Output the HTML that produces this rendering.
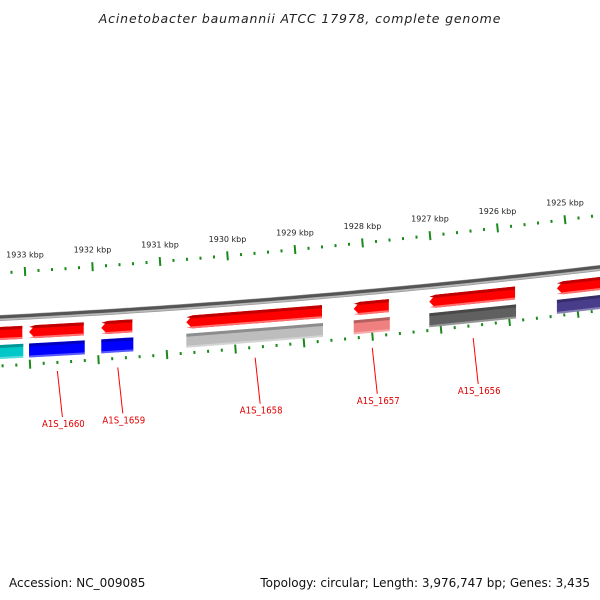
<!DOCTYPE html>
<html><head><meta charset="utf-8"><style>
body{margin:0;background:#fff}
svg{display:block;font-family:"DejaVu Sans","Liberation Sans",sans-serif}
</style></head><body>
<svg id="c" width="600" height="600" viewBox="0 0 600 600">
<text x="300" y="23" text-anchor="middle" font-size="12.5" letter-spacing="0.85" font-style="italic" fill="#222">Acinetobacter baumannii ATCC 17978, complete genome</text>
<text x="9" y="587" font-size="12" fill="#111">Accession: NC_009085</text>
<text x="590" y="587" text-anchor="end" font-size="12" fill="#111">Topology: circular; Length: 3,976,747 bp; Genes: 3,435</text>
<g id="g"></g>
</svg>
<script>
const tickKbp=[1933,1932,1931,1930,1929,1928,1927,1926,1925];
const tickLabels=["1933 kbp","1932 kbp","1931 kbp","1930 kbp","1929 kbp","1928 kbp","1927 kbp","1926 kbp","1925 kbp"];
const geneNames=["gene-left","A1S_1660","A1S_1659","A1S_1658","A1S_1657","A1S_1656","gene-right"];
const geneStart=[1933.5,1932.94,1931.87,1930.61,1928.13,1927.01,1925.12];
const geneEnd=[1933.04,1932.13,1931.41,1928.60,1927.61,1925.74,1924.4];
const cogColors=["#00c8c8","#0000ff","#0000ff","#bdbdbd","#f08080","#606060","#483d8b"];
const showLabel=[false,true,true,true,true,true,false];

const NS="http://www.w3.org/2000/svg";
const g=document.getElementById('g');
function base(x){return 318-0.05*x-5.56e-5*x*x;}
function slope(x){return -0.05-2*5.56e-5*x;}
function xO(k){return 25+(1933-k)*67.5;}
function xI(k){return 30+(1933-k)*68.5;}
function offO(x){return -45-7*x/540;}
function offI(x){return 48-5*x/550;}
function mk(t,a){const e=document.createElementNS(NS,t);for(const k in a)e.setAttribute(k,a[k]);g.appendChild(e);return e;}
function curve(o){let d="";for(let x=-10;x<=610;x+=10)d+=(x<0?"M":"L")+x+","+(base(x)+o);return d;}

// backbone
[[0,"#999",6],[-1,"#555",3],[1.5,"#bbb",1.5]].forEach(([o,c,w],i)=>{
 const p=mk('path',{d:curve(o),fill:"none",stroke:c,"stroke-width":w});
 
 });

// ticks
function tick(x,y,len,name){const s=slope(x),n=Math.hypot(1,s),nx=-s/n,ny=1/n;
 const l=mk('line',{x1:x-nx*len/2,y1:y-ny*len/2,x2:x+nx*len/2,y2:y+ny*len/2,stroke:"#1a8a1a","stroke-width":2});
 
 }
const k0=tickKbp[0]+0.6,k1=tickKbp[tickKbp.length-1]-0.6;
for(let i=0;;i++){const k=k0-i*0.2;if(k<k1)break;
 const major=Math.abs(k-Math.round(k))<0.01;const len=major?9:3;
 let x=xO(k);if(x>=-2&&x<=602)tick(x,base(x)+offO(x),len,major?'outer-major-tick':'outer-minor-tick');
 x=xI(k);if(x>=-2&&x<=602)tick(x,base(x)+offI(x),len,major?'inner-major-tick':'inner-minor-tick');}
tickKbp.forEach((k,i)=>{const x=xO(k);const t=mk('text',{x:x,y:base(x)+offO(x)-14,"text-anchor":"middle","font-size":"8",fill:"#222"});t.textContent=tickLabels[i];
 
 });

// genes
function band(x1,x2,o1,o2,fill,arrow){const a=Math.max(x1,-5),b=Math.min(x2,605);
 let p=[];const ar=arrow&&x1>-5?6:0;
 p.push([a+ar,base(a+ar)+o1],[b,base(b)+o1],[b,base(b)+o2],[a+ar,base(a+ar)+o2]);
 if(ar)p.push([a,base(a)+(o1+o2)/2]);
 return mk('polygon',{points:p.map(q=>q.join(',')).join(' '),fill:fill});}
geneNames.forEach((nm,i)=>{const x1=xO(geneStart[i]),x2=xO(geneEnd[i]);
 const r=band(x1,x2,9,22,"#ff0000",true);
 
 
 const t=band(x1,x2,9,12,"#c00000",true);
 const h=band(x1,x2,20,22,"#ff7070",true);
 const c=band(x1,x2+1,27,41,cogColors[i],false);
 
 
 const c2=band(x1,x2+1,27,30,"rgba(0,0,0,0.25)",false);
 const c3=band(x1,x2+1,39,41,"rgba(255,255,255,0.35)",false);
 if(showLabel[i]){const xm=(x1+x2)/2;const lx=xm+1,ly=base(xm)+56;
  const ln=mk('line',{x1:lx,y1:ly,x2:lx+5,y2:ly+46,stroke:"#ff0000","stroke-width":1});
  
  
  const tx=mk('text',{x:lx+6,y:ly+56,"text-anchor":"middle","font-size":"9.5","font-family":"'DejaVu Sans Condensed','Liberation Sans Narrow',sans-serif",fill:"#e00000"});tx.textContent=nm;
  
  }
});
</script>
</body></html>
